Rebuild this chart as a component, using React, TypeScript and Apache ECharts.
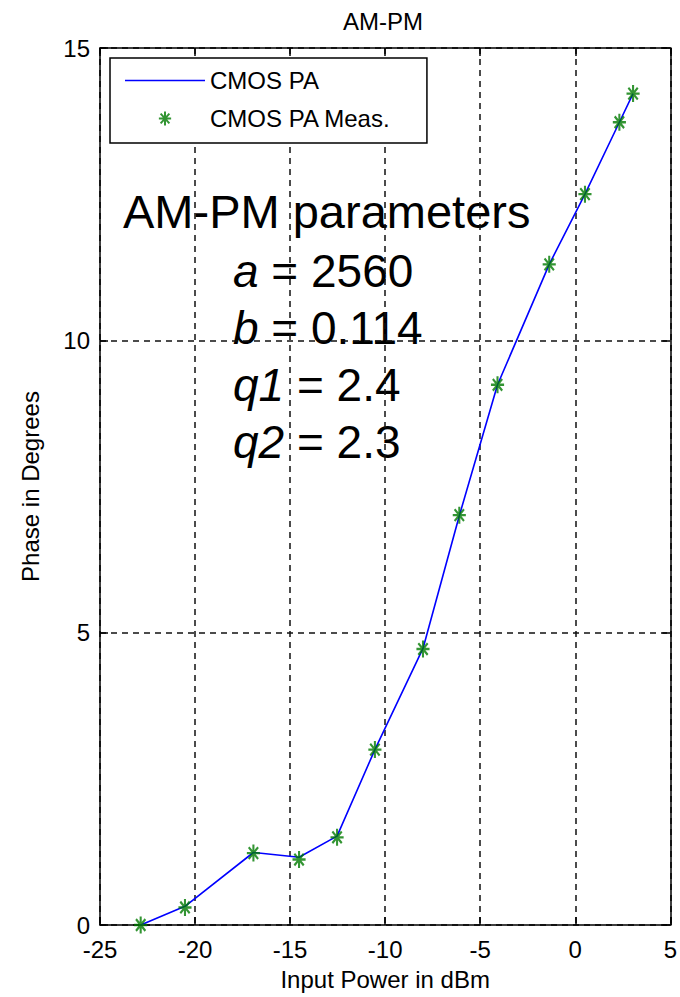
import React, { useEffect, useRef } from "react";
import * as echarts from "echarts";

// Input power sweep (dBm) and measured / modelled phase shift (degrees)
const inputPower = [-22.86, -20.53, -16.93, -14.53, -12.53, -10.54, -8.01, -6.1, -4.09, -1.37, 0.51, 2.32, 3.04];
const measuredPhase = [0.0, 0.3, 1.23, 1.12, 1.5, 3.0, 4.72, 7.01, 9.24, 11.3, 12.5, 13.73, 14.22];
const modelPhase = [0.0, 0.32, 1.24, 1.16, 1.52, 3.0, 4.73, 7.0, 9.24, 11.3, 12.5, 13.73, 14.22];

const xTicks = { min: -25, max: 5, step: 5 };
const yTicks = { min: 0, max: 15, step: 5 };

const paramLines = [
  { sym: "a", value: "2560" },
  { sym: "b", value: "0.114" },
  { sym: "q1", value: "2.4" },
  { sym: "q2", value: "2.3" },
];

const FONT = "'Liberation Sans', Arial, sans-serif";
// eight-armed asterisk marker
const STAR = "path://M0 -8 L0 8 M-7 0 L7 0 M-5 -5.5 L5 5.5 M-5 5.5 L5 -5.5";
// thin horizontal stroke centred in an 80x14 box, for the line's legend entry
const LINE_ICON = "path://M0 0 L0 0 M0 6.2 L80 6.2 L80 7.8 L0 7.8 Z M80 14 L80 14";

export default function App() {
  const ref = useRef<HTMLDivElement>(null);

  useEffect(() => {
    if (!ref.current) return;
    const chart = echarts.init(ref.current, null, { renderer: "svg" });

    const lineData = inputPower.map((x, i) => [x, modelPhase[i]]);
    const measData = inputPower.map((x, i) => [x, measuredPhase[i]]);

    const tickStyle = { show: true, inside: true, length: 8, lineStyle: { color: "#000", width: 1.5 } };
    const axisLine = { show: true, onZero: false, lineStyle: { color: "#000", width: 1.5 } };
    const gridDash = { show: true, lineStyle: { color: "#111", width: 1.5, type: [6, 5] as any } };

    const paramGraphics = paramLines.map((p, i) => ({
      type: "text",
      left: 233,
      top: 248 + i * 57,
      style: {
        text: `{i|${p.sym}} = ${p.value}`,
        fontSize: 46,
        fontFamily: FONT,
        fill: "#000",
        rich: { i: { fontStyle: "italic", fontSize: 46, fontFamily: FONT } },
      },
    }));

    chart.setOption({
      animation: false,
      backgroundColor: "#fff",
      textStyle: { fontFamily: FONT },
      grid: { left: 100, right: 9, top: 48, bottom: 72, show: false },
      legend: {
        left: 110,
        top: 58,
        orient: "vertical",
        backgroundColor: "#fff",
        borderColor: "#000",
        borderWidth: 1.5,
        borderRadius: 0,
        padding: [10, 36, 12, 15],
        itemGap: 13,
        itemWidth: 80,
        itemHeight: 14,
        textStyle: { fontSize: 24, fontFamily: FONT, color: "#000", lineHeight: 25 },
        data: [{ name: "CMOS PA", icon: LINE_ICON }, { name: "CMOS PA Meas." }],
      },
      xAxis: [
        {
          type: "value",
          position: "bottom",
          min: xTicks.min,
          max: xTicks.max,
          interval: xTicks.step,
          axisLine,
          axisTick: tickStyle,
          splitLine: gridDash,
          axisLabel: { fontSize: 24, color: "#000", margin: 14, lineHeight: 20 },
          name: "Input Power in dBm",
          nameLocation: "middle",
          nameGap: 42,
          nameTextStyle: { fontSize: 24, color: "#000" },
        },
        {
          type: "value",
          position: "top",
          min: xTicks.min,
          max: xTicks.max,
          interval: xTicks.step,
          axisLine,
          axisTick: tickStyle,
          splitLine: { show: false },
          axisLabel: { show: false },
        },
      ],
      yAxis: [
        {
          type: "value",
          position: "left",
          min: yTicks.min,
          max: yTicks.max,
          interval: yTicks.step,
          axisLine,
          axisTick: tickStyle,
          splitLine: gridDash,
          axisLabel: { fontSize: 24, color: "#000", margin: 10, lineHeight: 20 },
          name: "Phase in Degrees",
          nameLocation: "middle",
          nameRotate: 90,
          nameGap: 58,
          nameTextStyle: { fontSize: 24, color: "#000" },
        },
        {
          type: "value",
          position: "right",
          min: yTicks.min,
          max: yTicks.max,
          interval: yTicks.step,
          axisLine,
          axisTick: tickStyle,
          splitLine: { show: false },
          axisLabel: { show: false },
        },
      ],
      series: [
        {
          name: "CMOS PA",
          type: "line",
          data: lineData,
          symbol: "none",
          lineStyle: { color: "#0000ff", width: 1.6 },
          itemStyle: { color: "#0000ff" },
          z: 2,
        },
        {
          name: "CMOS PA Meas.",
          type: "scatter",
          data: measData,
          symbol: STAR,
          symbolSize: [15, 17],
          symbolKeepAspect: true,
          itemStyle: { color: "rgba(0,0,0,0)", borderColor: "#007a00", borderWidth: 2.2 },
          z: 3,
        },
      ],
      graphic: [
        {
          type: "text",
          left: 385 - 42,
          top: 9,
          style: { text: "AM-PM", fontSize: 24, fontFamily: FONT, fill: "#000" },
        },
        {
          type: "text",
          left: 123,
          top: 188,
          style: { text: "AM-PM parameters", fontSize: 47, fontFamily: FONT, fill: "#000" },
        },
        ...paramGraphics,
      ],
    });

    return () => chart.dispose();
  }, []);

  return (
    <div
      ref={ref}
      style={{ position: "fixed", left: 0, top: 0, width: 680, height: 997, background: "#fff" }}
    />
  );
}
